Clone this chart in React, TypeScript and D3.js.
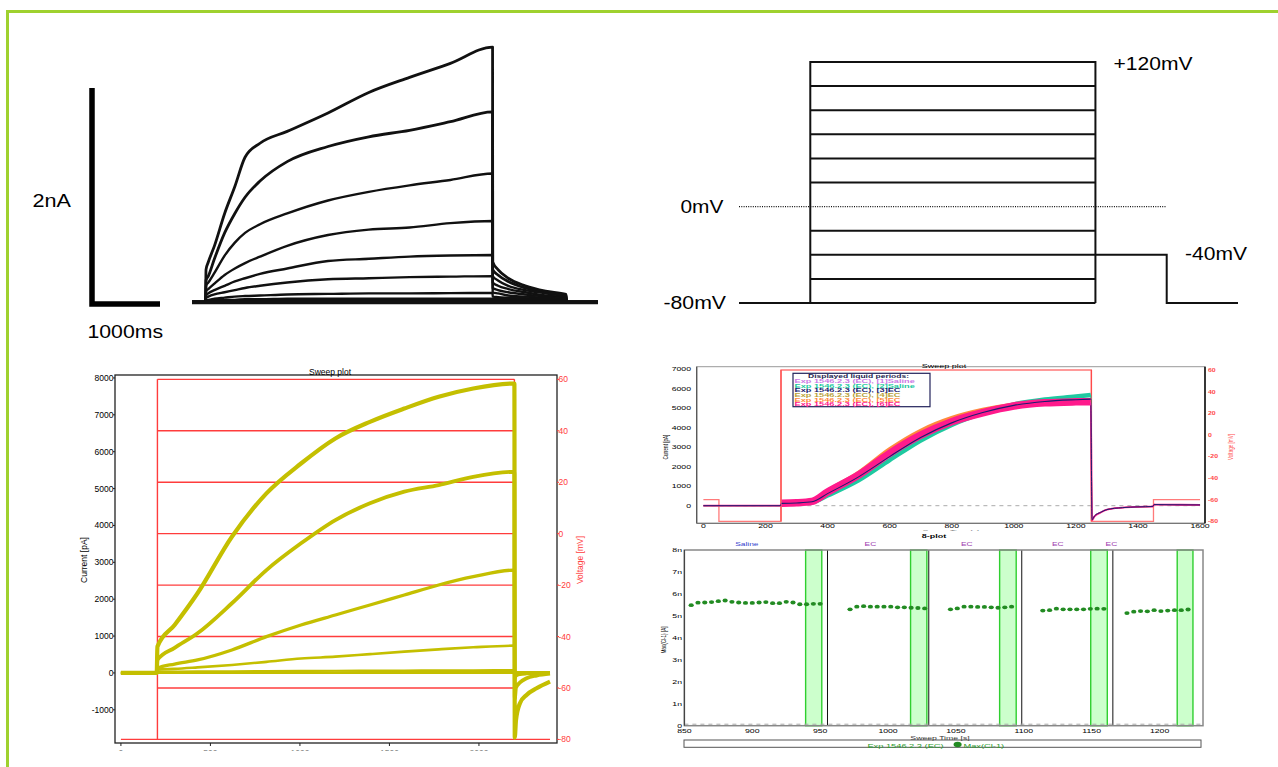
import React from 'react';
import * as d3 from 'd3';

const FONT = '"Liberation Sans", Arial, Helvetica, sans-serif';

// ---------- Panel A: recorded current traces (ms, nA) ----------
const aStepTimes = [0, 200, 206, 240, 330, 480, 630, 780, 1000, 1400, 2000, 2600, 3200, 3800, 4420];
const aStepCurrents = [
  [0, 0, 0.30, 0.37, 0.52, 0.82, 1.07, 1.34, 1.47, 1.58, 1.75, 1.94, 2.08, 2.21, 2.36],
  [0, 0, 0.20, 0.24, 0.40, 0.64, 0.82, 0.97, 1.12, 1.30, 1.44, 1.53, 1.59, 1.67, 1.76],
  [0, 0, 0.15, 0.18, 0.27, 0.43, 0.55, 0.64, 0.72, 0.82, 0.94, 1.02, 1.08, 1.13, 1.19],
  [0, 0, 0.10, 0.12, 0.17, 0.25, 0.31, 0.36, 0.42, 0.52, 0.62, 0.67, 0.69, 0.73, 0.75],
  [0, 0, 0.06, 0.08, 0.11, 0.15, 0.19, 0.22, 0.26, 0.31, 0.38, 0.40, 0.42, 0.43, 0.435],
  [0, 0, 0.04, 0.05, 0.07, 0.09, 0.11, 0.13, 0.15, 0.18, 0.21, 0.22, 0.23, 0.235, 0.24],
  [0, 0, 0.02, 0.02, 0.03, 0.04, 0.05, 0.055, 0.06, 0.07, 0.075, 0.08, 0.08, 0.082, 0.083],
  [0, 0, 0.01, 0.01, 0.015, 0.02, 0.02, 0.025, 0.025, 0.03, 0.03, 0.03, 0.03, 0.03, 0.03],
  [0, 0, 0.005, 0.005, 0.005, 0.005, 0.005, 0.01, 0.01, 0.01, 0.01, 0.01, 0.01, 0.01, 0.01],
];
const aTailTimes = [4422, 4500, 4650, 4900, 5200, 5500, 5510, 5970];
const aTailCurrents = [
  [0.37, 0.30, 0.22, 0.15, 0.10, 0.07, 0, 0],
  [0.30, 0.25, 0.19, 0.13, 0.09, 0.06, 0, 0],
  [0.24, 0.20, 0.15, 0.11, 0.08, 0.05, 0, 0],
  [0.18, 0.15, 0.12, 0.09, 0.06, 0.04, 0, 0],
  [0.13, 0.11, 0.09, 0.07, 0.05, 0.03, 0, 0],
  [0.09, 0.08, 0.06, 0.05, 0.04, 0.03, 0, 0],
  [0.05, 0.045, 0.04, 0.035, 0.03, 0.02, 0, 0],
  [0.03, 0.03, 0.025, 0.02, 0.02, 0.015, 0, 0],
  [0.01, 0.01, 0.01, 0.01, 0.01, 0.01, 0, 0],
];
const aScaleBar = { ms: 1000, nA: 2 };
const aLabels = ['2nA', '1000ms'];

// ---------- Panel B: voltage protocol (ms, mV) ----------
const bTimes = [0, 250, 1250, 1500, 1750];
const bHolding = -80;
const bTailLevel = -40;
const bStepLevels = [-60, -40, -20, 20, 40, 60, 80, 100, 120];
const bRange = [-80, 120];
const bLabels = ['+120mV', '0mV', '-40mV', '-80mV'];

// ---------- Panel C: sweep plot (ms, pA, mV) ----------
const cTimes = [0, 200, 204, 300, 428, 620, 813, 1006, 1198, 1391, 1583, 1775, 1968, 2198];
const cCurrents = [
  [0, 0, 713, 1300, 2160, 3694, 4870, 5680, 6360, 6810, 7170, 7490, 7715, 7850],
  [0, 0, 352, 680, 1075, 1890, 2790, 3515, 4146, 4600, 4915, 5095, 5320, 5455],
  [0, 0, 127, 240, 352, 623, 984, 1300, 1572, 1843, 2114, 2385, 2610, 2790],
  [0, 0, 90, 110, 150, 217, 300, 390, 442, 510, 577, 640, 696, 740],
  [0, 0, 30, 35, 40, 45, 50, 55, 60, 63, 66, 70, 72, 75],
  [0, 0, 10, 12, 14, 16, 18, 20, 22, 24, 26, 28, 30, 30],
  [0, 0, -5, -5, -5, -5, -5, -5, -5, -5, -5, -5, -5, -5],
];
const cTailTimes = [2200, 2207, 2229, 2266, 2322, 2397];
const cTails = [
  [-1750, -1275, -820, -596, -415, -235],
  [-700, -400, -260, -144, -70, -20],
  [-150, -80, -40, -20, -10, 0],
  [-60, -30, -10, 0, 10, 15],
  [20, 20, 25, 25, 25, 25],
  [10, 15, 20, 20, 20, 20],
  [-5, -5, -5, -5, -5, -5],
];
const cStepOn = 204;
const cStepOff = 2198;
const cEnd = 2397;
const cHolding = -80;
const cLevels = [-60, -40, -20, 0, 20, 40, 60];
const cCurrentTicks = [-1000, 0, 1000, 2000, 3000, 4000, 5000, 6000, 7000, 8000];
const cVoltageTicks = [-80, -60, -40, -20, 0, 20, 40, 60];
const cTimeTicks = [0, 500, 1000, 1500, 2000];

// ---------- Panel D: sweep plot, several liquid periods ----------
const dTimes = [0, 248, 252, 300, 350, 400, 500, 600, 700, 800, 900, 1000, 1100, 1200, 1248, 1252, 1260, 1280, 1300, 1350, 1400, 1448, 1452, 1500, 1600];
const dSaline1 = [0, 0, 125, 145, 210, 660, 1500, 2580, 3520, 4240, 4720, 5050, 5200, 5250, 5260, -720, -540, -340, -200, -100, -60, -40, 60, 50, 40];
const dSaline2 = [0, 0, 120, 130, 170, 520, 1300, 2340, 3350, 4150, 4750, 5200, 5450, 5600, 5680, -700, -520, -330, -190, -100, -60, -40, 60, 50, 40];
const dEC3 = [0, 0, 120, 140, 200, 620, 1480, 2520, 3500, 4250, 4780, 5150, 5350, 5440, 5470, -720, -530, -340, -200, -100, -60, -40, 60, 50, 40];
const dEC4 = [0, 0, 125, 150, 230, 720, 1620, 2760, 3700, 4380, 4850, 5160, 5300, 5340, 5350, -740, -540, -350, -200, -100, -60, -40, 60, 55, 40];
const dEC5 = [0, 0, 130, 160, 240, 760, 1700, 2900, 3850, 4500, 4920, 5200, 5330, 5380, 5400, -740, -550, -350, -200, -100, -60, -40, 60, 55, 40];
const dEC6 = [0, 0, 130, 150, 220, 700, 1575, 2690, 3620, 4310, 4770, 5115, 5280, 5330, 5340, -750, -550, -350, -200, -100, -60, -40, 60, 55, 40];
const dProtocolTimes = [0, 50, 250, 1250, 1450, 1600];
const dProtocolLevels = [-60, -80, 60, -80, -60, -60];
const dStepStart = 250;
const dStepEnd = 1250;
const dCurrentTicks = [0, 1000, 2000, 3000, 4000, 5000, 6000, 7000];
const dVoltageTicks = [-80, -60, -40, -20, 0, 20, 40, 60];
const dTimeTicks = [0, 200, 400, 600, 800, 1000, 1200, 1400, 1600];
const dLegendTitle = 'Displayed liquid periods:';
const dLegendLabels = [
  'Exp 1546.2.3 (EC), [1]Saline',
  'Exp 1546.2.3 (EC), [2]Saline',
  'Exp 1546.2.3 (EC), [3]EC',
  'Exp 1546.2.3 (EC), [4]EC',
  'Exp 1546.2.3 (EC), [5]EC',
  'Exp 1546.2.3 (EC), [6]EC',
];

// ---------- Panel E: Max(Cl-1) vs sweep time ----------
const ePeriodTimes = [
  [855, 860, 865, 870, 875, 880, 885, 890, 895, 900, 905, 910, 915, 920, 925, 930, 935, 940, 945, 950],
  [972, 977, 982, 987, 992, 997, 1002, 1007, 1012, 1017, 1022, 1027],
  [1046, 1051, 1056, 1061, 1066, 1071, 1076, 1081, 1086, 1091],
  [1114, 1119, 1124, 1129, 1134, 1139, 1144, 1149, 1154, 1159],
  [1176, 1181, 1186, 1191, 1196, 1201, 1206, 1211, 1216, 1221],
];
const ePeriodValues = [
  [5.49, 5.60, 5.61, 5.63, 5.67, 5.70, 5.64, 5.61, 5.59, 5.59, 5.61, 5.63, 5.58, 5.58, 5.64, 5.61, 5.53, 5.53, 5.55, 5.55],
  [5.30, 5.42, 5.44, 5.42, 5.42, 5.42, 5.42, 5.39, 5.39, 5.37, 5.36, 5.34],
  [5.30, 5.34, 5.42, 5.42, 5.41, 5.41, 5.39, 5.37, 5.39, 5.42],
  [5.24, 5.26, 5.33, 5.30, 5.30, 5.30, 5.30, 5.32, 5.33, 5.32],
  [5.13, 5.19, 5.22, 5.21, 5.26, 5.22, 5.24, 5.26, 5.26, 5.29],
];
const eSeparators = [955.4, 1030, 1098.5, 1165.6];
const eBandStarts = [939.3, 1016.6, 1082.2, 1149.3, 1213];
const eBandEnds = [951.2, 1028.6, 1094.4, 1161.5, 1224.6];
const ePeriodNames = ['Saline', 'EC', 'EC', 'EC', 'EC'];
const ePeriodLabelTimes = [896, 987, 1058, 1125, 1164.5];
const eYTicks = [0, 1, 2, 3, 4, 5, 6, 7, 8];
const eYTickLabels = ['0', '1n', '2n', '3n', '4n', '5n', '6n', '7n', '8n'];
const eXTicks = [850, 900, 950, 1000, 1050, 1100, 1150, 1200];

type TP = {
  x: number; y: number; size: number; sx?: number; sy?: number; rot?: number;
  anchor?: string; fill?: string; weight?: string | number; children: React.ReactNode;
};
function Txt({ x, y, size, sx = 1, sy = 1, rot = 0, anchor = 'start', fill = '#000', weight = 'normal', children }: TP) {
  return (
    <text
      transform={`translate(${x},${y}) rotate(${rot}) scale(${sx},${sy})`}
      fontSize={size}
      fontFamily={FONT}
      textAnchor={anchor as any}
      fill={fill}
      fontWeight={weight as any}
    >
      {children}
    </text>
  );
}

function PanelA() {
  const x = d3.scaleLinear().domain([0, 1000]).range([192, 260]);
  const y = d3.scaleLinear().domain([0, 2]).range([302, 86]);
  const line = d3.line<[number, number]>().x(d => x(d[0])).y(d => y(d[1])).curve(d3.curveMonotoneX);
  const traces = aStepCurrents.map((vals, i) => {
    const pts: [number, number][] = aStepTimes.map((t, j) => [t, vals[j]]);
    aTailTimes.forEach((t, j) => pts.push([t, aTailCurrents[i][j]]));
    return pts;
  });
  const barX = 92;
  const barY = 304;
  const barLen = x(aScaleBar.ms) - x(0);
  const barH = y(0) - y(aScaleBar.nA);
  return (
    <g>
      {traces.map((pts, i) => (
        <path key={i} d={line(pts) || ''} fill="none" stroke="#111" strokeWidth={i < 2 ? 2.8 : 2.4} strokeLinejoin="round" />
      ))}
      <line x1={x(0)} x2={x(5970)} y1={y(0) + 0.5} y2={y(0) + 0.5} stroke="#111" strokeWidth={3.5} />
      <path d={`M${barX},${barY - barH} V${barY} H${barX + barLen}`} fill="none" stroke="#000" strokeWidth={5.5} />
      <Txt x={32.5} y={206.5} size={18} sx={1.2}>{aLabels[0]}</Txt>
      <Txt x={87.5} y={338} size={18} sx={1.18}>{aLabels[1]}</Txt>
    </g>
  );
}

function PanelB() {
  const x = d3.scaleLinear().domain([0, 1750]).range([739, 1238]);
  const y = d3.scaleLinear().domain(bRange).range([303, 62]);
  const [t0, tOn, tOff, tTail, tEnd] = bTimes;
  const top = bRange[1];
  return (
    <g stroke="#111" strokeWidth={2} fill="none">
      <path d={`M${x(t0)},${y(bHolding)} H${x(tOff)}`} />
      <path d={`M${x(tOn)},${y(bHolding)} V${y(top)} H${x(tOff)} V${y(bHolding)}`} />
      {bStepLevels.map(v => (
        <line key={v} x1={x(tOn)} x2={x(tOff)} y1={y(v)} y2={y(v)} />
      ))}
      <path d={`M${x(tOff)},${y(bTailLevel)} H${x(tTail)} V${y(bHolding)} H${x(tEnd)}`} />
      <line x1={x(t0)} x2={x(tTail) - 1} y1={y(0)} y2={y(0)} strokeWidth={1.2} strokeDasharray="1,1.3" />
      <g stroke="none">
        <Txt x={1113.5} y={70} size={18} sx={1.17}>{bLabels[0]}</Txt>
        <Txt x={680.5} y={213} size={18} sx={1.16}>{bLabels[1]}</Txt>
        <Txt x={1185} y={260} size={18} sx={1.17}>{bLabels[2]}</Txt>
        <Txt x={663.5} y={309} size={18} sx={1.18}>{bLabels[3]}</Txt>
      </g>
    </g>
  );
}

function PanelC() {
  const L = 115, R = 557, T = 375, B = 743;
  const x = d3.scaleLinear().domain([-33, 2436]).range([L, R]);
  const y = d3.scaleLinear().domain([-1900, 8080]).range([B, T]);
  const v = d3.scaleLinear().domain([-81.4, 61.7]).range([B, T]);
  const line = d3.line<[number, number]>().x(d => x(d[0])).y(d => y(d[1])).curve(d3.curveMonotoneX);
  const traces = cCurrents.map((vals, i) => {
    const pts: [number, number][] = cTimes.map((t, j) => [t, vals[j]]);
    cTailTimes.forEach((t, j) => pts.push([t, cTails[i][j]]));
    return pts;
  });
  const widths = [4.2, 3.8, 3.3, 2.6, 2.2, 2, 2];
  const red = '#ff3c3c';
  return (
    <g>
      <defs>
        <clipPath id="clipC"><rect x={0} y={0} width={1278} height={750.5} /></clipPath>
      </defs>
      <g stroke={red} strokeWidth={1.4} fill="none">
        <line x1={x(0)} x2={x(cEnd)} y1={v(cHolding)} y2={v(cHolding)} />
        <line x1={x(cStepOn)} x2={x(cStepOn)} y1={v(cHolding)} y2={v(d3.max(cLevels) as number)} />
        <line x1={x(cStepOff)} x2={x(cStepOff)} y1={v(cHolding)} y2={v(d3.max(cLevels) as number)} />
        {cLevels.map(l => (
          <line key={l} x1={x(cStepOn)} x2={x(cStepOff)} y1={v(l)} y2={v(l)} />
        ))}
      </g>
      {traces.slice().reverse().map((pts, k) => {
        const i = traces.length - 1 - k;
        return <path key={i} d={line(pts) || ''} fill="none" stroke="#c4bf00" strokeWidth={widths[i]} strokeLinejoin="round" />;
      })}
      <rect x={L} y={T} width={R - L} height={B - T} fill="none" stroke="#222" strokeWidth={1.3} />
      {cCurrentTicks.map(t => (
        <g key={t}>
          <line x1={L - 2} x2={L} y1={y(t)} y2={y(t)} stroke="#222" />
          <Txt x={L - 1.5} y={y(t) + 3} size={8.5} anchor="end">{String(t)}</Txt>
        </g>
      ))}
      {cVoltageTicks.map(t => (
        <g key={t}>
          <line x1={R} x2={R + 2} y1={v(t)} y2={v(t)} stroke={red} />
          <Txt x={R + 1.5} y={v(t) + 3} size={8.5} fill={red}>{String(t)}</Txt>
        </g>
      ))}
      <g clipPath="url(#clipC)">
        {cTimeTicks.map(t => (
          <g key={t}>
            <line x1={x(t)} x2={x(t)} y1={B} y2={B + 3} stroke="#222" />
            <Txt x={x(t)} y={756} size={8.5} anchor="middle">{String(t)}</Txt>
          </g>
        ))}
      </g>
      <Txt x={330} y={374.5} size={8.5} anchor="middle">Sweep plot</Txt>
      <Txt x={87} y={560} size={8.5} rot={-90} anchor="middle">Current [pA]</Txt>
      <Txt x={582.5} y={560} size={8.5} rot={-90} anchor="middle" fill={red}>Voltage [mV]</Txt>
    </g>
  );
}

function PanelD() {
  const L = 696.7, R = 1205, T = 366.7, B = 523.3;
  const x = d3.scaleLinear().domain([-21.6, 1616]).range([L, R]);
  const y = d3.scaleLinear().domain([-903, 7133]).range([B, T]);
  const v = d3.scaleLinear().domain([-81.85, 63.05]).range([B, T]);
  const line = d3.line<[number, number]>().x(d => x(d[0])).y(d => y(d[1])).curve(d3.curveMonotoneX);
  const vLine = d3.line<number>().x((_, j) => x(dProtocolTimes[j])).y(d => v(d)).curve(d3.curveStepAfter);
  const series = [dSaline1, dSaline2, dEC3, dEC4, dEC5, dEC6];
  const colors = ['#cc7ae6', '#1fc9a0', '#1c1c70', '#b9a23a', '#ff8a3c', '#ff1a8c'];
  const drawOrder = [1, 4, 3, 0, 5, 2];
  const drawWidths = [3, 4.5, 1.1, 3, 4, 7.5];
  const red = '#ff4a4a';
  const sx = 1.5;
  const allPts = (s: number[]) => dTimes.map((t, j) => [t, s[j]] as [number, number]);
  const stepPts = (s: number[]) => allPts(s).filter(p => p[0] > dStepStart && p[0] < dStepEnd);
  return (
    <g>
      <defs>
        <clipPath id="clipDlab"><rect x={0} y={0} width={1278} height={530.8} /></clipPath>
      </defs>
      <line x1={x(0)} x2={x(1600)} y1={y(0)} y2={y(0)} stroke="#aaa" strokeWidth={1} strokeDasharray="4,4" />
      <path d={vLine(dProtocolLevels) || ''} fill="none" stroke="#ff7a7a" strokeWidth={1.3} />
      <line x1={x(dStepStart)} x2={x(dStepStart)} y1={v(-80)} y2={v(60)} stroke={red} strokeWidth={1.3} />
      <line x1={x(dStepEnd)} x2={x(dStepEnd)} y1={v(-80)} y2={v(60)} stroke={red} strokeWidth={1.3} />
      {drawOrder.map(i => (
        <path key={`a${i}`} d={line(allPts(series[i])) || ''} fill="none" stroke={colors[i]} strokeWidth={i === 5 ? 1.8 : 1} strokeLinejoin="round" />
      ))}
      {drawOrder.map(i => (
        <path key={`s${i}`} d={line(stepPts(series[i])) || ''} fill="none" stroke={colors[i]} strokeWidth={drawWidths[i]} strokeLinejoin="round" />
      ))}
      <rect x={L} y={T} width={R - L} height={B - T} fill="none" stroke="#999" strokeWidth={1} />
      <line x1={L} x2={L} y1={T} y2={B} stroke="#555" strokeWidth={1.3} />
      <line x1={L} x2={R} y1={B} y2={B} stroke="#777" strokeWidth={1.3} />
      <line x1={R} x2={R} y1={T} y2={B} stroke="#111" strokeWidth={1.6} />
      {dCurrentTicks.map(t => (
        <Txt key={t} x={691} y={y(t) + 2} size={5.8} sx={sx} anchor="end">{String(t)}</Txt>
      ))}
      {dVoltageTicks.map(t => (
        <Txt key={t} x={1208} y={v(t) + 2} size={5.8} sx={1.2} fill={red} weight="bold">{String(t)}</Txt>
      ))}
      {dTimeTicks.map(t => (
        <Txt key={t} x={x(t)} y={528} size={5.8} sx={sx} anchor="middle">{String(t)}</Txt>
      ))}
      <g clipPath="url(#clipDlab)">
        <Txt x={951} y={534} size={5.5} sx={sx} anchor="middle" fill="#555">Sweep Time [s]</Txt>
      </g>
      <Txt x={934} y={537.5} size={6} sx={sx} anchor="middle" weight="bold">8-plot</Txt>
      <Txt x={944} y={368} size={6} sx={sx} anchor="middle">Sweep plot</Txt>
      <Txt x={668} y={447} size={4.6} sy={1.6} rot={-90} anchor="middle">Current [pA]</Txt>
      <Txt x={1233} y={447} size={4.6} sy={1.6} rot={-90} anchor="middle" fill={red}>Voltage [mV]</Txt>
      <rect x={793} y={373.3} width={137} height={33.4} fill="#fff" stroke="#22225a" strokeWidth={1.2} />
      <Txt x={808} y={378.2} size={4.6} sx={1.85} weight="bold" fill="#1c1c50">{dLegendTitle}</Txt>
      {dLegendLabels.map((lab, i) => (
        <Txt key={i} x={794.5} y={383 + i * 4.65} size={4.5} sx={2.05} weight="bold" fill={colors[i]}>{lab}</Txt>
      ))}
    </g>
  );
}

function PanelE() {
  const L = 684.4, R = 1203, T = 550, B = 725.7;
  const x = d3.scaleLinear().domain([850, 1232]).range([L, R]);
  const y = d3.scaleLinear().domain([0, 8]).range([B, T]);
  const sx = 1.5;
  const green = '#228b22';
  return (
    <g>
      {eBandStarts.map((s, i) => (
        <rect key={i} x={x(s)} y={T} width={x(eBandEnds[i]) - x(s)} height={B - T} fill="#ccffcc" stroke="#2fcf2f" strokeWidth={1.4} />
      ))}
      {eSeparators.map((s, i) => (
        <line key={i} x1={x(s)} x2={x(s)} y1={T} y2={B} stroke="#111" strokeWidth={1} />
      ))}
      <line x1={L} x2={R} y1={y(0) - 1.5} y2={y(0) - 1.5} stroke="#aaa" strokeWidth={1} strokeDasharray="4,4" />
      {ePeriodTimes.map((ts, p) => ts.map((t, j) => (
        <ellipse key={`${p}-${j}`} cx={x(t)} cy={y(ePeriodValues[p][j])} rx={2.6} ry={1.9} fill={green} />
      )))}
      <rect x={L} y={T} width={R - L} height={B - T} fill="none" stroke="#888" strokeWidth={1.5} />
      <line x1={L} x2={L} y1={T} y2={B} stroke="#444" strokeWidth={1.2} />
      {eYTicks.map((t, i) => (
        <Txt key={t} x={682} y={y(t) + 2} size={5.8} sx={sx} anchor="end">{eYTickLabels[i]}</Txt>
      ))}
      {eXTicks.map(t => (
        <Txt key={t} x={x(t)} y={733} size={5.8} sx={sx} anchor="middle">{String(t)}</Txt>
      ))}
      {ePeriodNames.map((n, i) => (
        <Txt key={i} x={x(ePeriodLabelTimes[i])} y={546} size={5.8} sx={1.45} anchor="middle" fill={i === 0 ? '#3340cc' : '#a040b0'}>{n}</Txt>
      ))}
      <Txt x={940} y={739.5} size={5.8} sx={sx} anchor="middle" fill="#333">Sweep Time [s]</Txt>
      <Txt x={666} y={640} size={4.6} sy={1.6} rot={-90} anchor="middle">Max(Cl-1) [A]</Txt>
      <rect x={684} y={740} width={517} height={7.3} fill="none" stroke="#555" strokeWidth={1} />
      <Txt x={905.5} y={747.5} size={5.8} sx={1.6} anchor="middle" fill="#2a9a2a">Exp 1546.2.3 (EC)</Txt>
      <ellipse cx={957.6} cy={744.5} rx={4} ry={2.8} fill={green} />
      <Txt x={963.5} y={747.5} size={5.8} sx={1.6} fill="#2a9a2a">Max(Cl-1)</Txt>
    </g>
  );
}

export default function App() {
  return (
    <svg
      width={1278}
      height={767}
      viewBox="0 0 1278 767"
      style={{ position: 'absolute', left: 0, top: 0, background: '#fff' }}
    >
      <rect x={0} y={0} width={1278} height={767} fill="#fff" />
      <path d="M7.5,767 V11.5 H1278" fill="none" stroke="#9fd12e" strokeWidth={3} />
      <PanelA />
      <PanelB />
      <PanelC />
      <PanelD />
      <PanelE />
    </svg>
  );
}
